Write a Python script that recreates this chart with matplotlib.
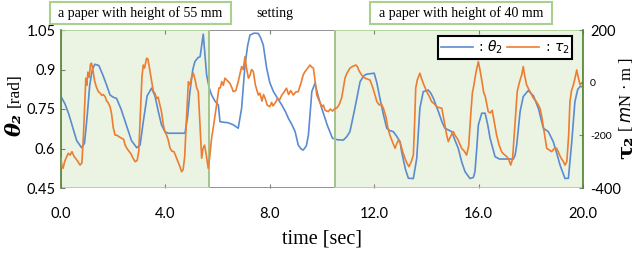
import matplotlib
matplotlib.use('Agg')
import matplotlib.pyplot as plt
from matplotlib.patches import Rectangle

# theta_2 [rad]
t_theta = [0.00, 0.15, 0.30, 0.45, 0.60, 0.79, 0.90, 1.00, 1.10, 1.20, 1.30, 1.45, 1.60, 1.75, 1.88,
           2.00, 2.13, 2.30, 2.50, 2.70, 2.90, 3.03, 3.15, 3.30, 3.47, 3.60, 3.73, 3.85, 3.98, 4.10,
           4.40, 4.75, 4.85, 4.94, 5.05, 5.13, 5.25, 5.33, 5.40, 5.45, 5.52, 5.58, 5.68, 5.77, 5.90,
           6.03, 6.09, 6.20, 6.40, 6.60, 6.79, 6.92, 7.05, 7.15, 7.24, 7.40, 7.56, 7.65, 7.75, 7.88,
           8.00, 8.14, 8.30, 8.46, 8.60, 8.71, 8.85, 8.97, 9.09, 9.20, 9.28, 9.40, 9.48, 9.61, 9.73,
           9.85, 9.99, 10.10, 10.20, 10.40, 10.60, 10.82, 10.95, 11.07, 11.26, 11.46, 11.60, 11.70, 12.00,
           12.10, 12.22, 12.35, 12.48, 12.60, 12.73, 12.85, 12.99, 13.05, 13.20, 13.31, 13.50, 13.63,
           13.75, 13.88, 14.07, 14.17, 14.27, 14.46, 14.60, 14.71, 14.97, 15.10, 15.22, 15.35, 15.48,
           15.67, 15.80, 15.86, 15.93, 15.99, 16.12, 16.25, 16.35, 16.44, 16.63, 16.80, 16.95, 17.33,
           17.40, 17.46, 17.59, 17.71, 17.90, 18.10, 18.29, 18.48, 18.67, 18.86, 19.00, 19.12, 19.31,
           19.44, 19.57, 19.69, 19.80, 19.89, 20.00]
theta = [0.797, 0.770, 0.730, 0.680, 0.630, 0.603, 0.620, 0.720, 0.840, 0.900, 0.920, 0.915, 0.880, 0.840, 0.803,
         0.795, 0.790, 0.750, 0.690, 0.630, 0.603, 0.613, 0.700, 0.800, 0.829, 0.800, 0.740, 0.690, 0.664, 0.658,
         0.658, 0.658, 0.720, 0.816, 0.900, 0.930, 0.945, 0.949, 1.000, 1.034, 0.950, 0.879, 0.830, 0.803, 0.780,
         0.765, 0.702, 0.700, 0.698, 0.690, 0.677, 0.753, 0.917, 0.990, 1.031, 1.038, 1.037, 1.020, 0.993, 0.905,
         0.850, 0.816, 0.790, 0.765, 0.740, 0.715, 0.690, 0.664, 0.613, 0.598, 0.594, 0.610, 0.651, 0.816, 0.848,
         0.800, 0.753, 0.720, 0.689, 0.639, 0.633, 0.632, 0.645, 0.664, 0.753, 0.854, 0.876, 0.882, 0.886,
         0.850, 0.790, 0.730, 0.677, 0.668, 0.664, 0.648, 0.626, 0.588, 0.520, 0.487, 0.486, 0.563,
         0.753, 0.816, 0.822, 0.810, 0.790, 0.740, 0.700, 0.677, 0.664, 0.630, 0.601, 0.550, 0.512,
         0.486, 0.490, 0.512, 0.600, 0.689, 0.734, 0.734, 0.690, 0.639, 0.569, 0.560, 0.560, 0.560,
         0.575, 0.613, 0.740, 0.797, 0.820, 0.800, 0.753, 0.677, 0.664, 0.626, 0.580, 0.537, 0.486,
         0.487, 0.626, 0.778, 0.825, 0.835, 0.835]

# tau_2 [mN m]
t_tau = [0.00, 0.04, 0.08, 0.14, 0.20, 0.28, 0.35, 0.42, 0.50, 0.58, 0.65, 0.73, 0.80, 0.86, 0.92,
         0.95, 0.99, 1.03, 1.08, 1.13, 1.17, 1.22, 1.28, 1.35, 1.43, 1.50, 1.56, 1.62, 1.69, 1.75,
         1.80, 1.88, 1.94, 2.00, 2.07, 2.15, 2.22, 2.32, 2.40, 2.45, 2.52, 2.60, 2.68, 2.75, 2.84,
         2.92, 2.98, 3.04, 3.10, 3.15, 3.20, 3.28, 3.33, 3.38, 3.45, 3.54, 3.60, 3.66, 3.72, 3.79,
         3.85, 3.92, 3.98, 4.05, 4.10, 4.18, 4.25, 4.33, 4.43, 4.50, 4.56, 4.62, 4.68, 4.74, 4.80,
         4.88, 4.95, 5.00, 5.07, 5.14, 5.20, 5.26, 5.32, 5.39, 5.44, 5.50, 5.56, 5.64, 5.70, 5.77,
         5.85, 5.96, 6.05, 6.10, 6.16, 6.22, 6.28, 6.35, 6.47, 6.55, 6.60, 6.70, 6.79, 6.85, 6.92,
         6.98, 7.05, 7.10, 7.18, 7.25, 7.30, 7.37, 7.45, 7.56, 7.62, 7.70, 7.76, 7.82, 7.90, 8.00,
         8.07, 8.12, 8.20, 8.30, 8.38, 8.46, 8.55, 8.64, 8.72, 8.80, 8.90, 9.00, 9.09, 9.20, 9.28,
         9.35, 9.45, 9.54, 9.60, 9.67, 9.73, 9.80, 9.90, 9.99, 10.05, 10.12, 10.24, 10.32, 10.40, 10.50,
         10.56, 10.65, 10.75, 10.82, 10.88, 10.95, 11.07, 11.18, 11.30, 11.36, 11.42, 11.52, 11.60, 11.70, 11.84,
         11.95, 12.04, 12.10, 12.20, 12.27, 12.35, 12.45, 12.52, 12.60, 12.70, 12.80, 12.87, 12.93, 13.00, 13.10,
         13.18, 13.25, 13.33, 13.42, 13.50, 13.55, 13.59, 13.65, 13.75, 13.80, 13.87, 13.95, 14.01, 14.10, 14.20,
         14.30, 14.39, 14.50, 14.59, 14.65, 14.71, 14.78, 14.84, 14.92, 15.03, 15.10, 15.20, 15.35, 15.45, 15.54,
         15.62, 15.70, 15.76, 15.82, 15.90, 15.99, 16.05, 16.12, 16.20, 16.25, 16.37, 16.45, 16.52, 16.60, 16.69,
         16.78, 16.88, 16.95, 17.08, 17.15, 17.23, 17.30, 17.40, 17.48, 17.56, 17.65, 17.71, 17.76, 17.84, 17.95,
         18.10, 18.20, 18.29, 18.36, 18.42, 18.50, 18.61, 18.70, 18.80, 18.90, 18.99, 19.06, 19.15, 19.25, 19.31,
         19.38, 19.45, 19.50, 19.56, 19.63, 19.70, 19.76, 19.82, 19.89, 19.95, 20.00]
tau = [-287, -320, -325, -300, -285, -268, -275, -262, -280, -290, -300, -313, -305, -200, -60,
       17, -10, 40, 20, 70, 74, 50, 10, -15, -34, -40, -48, -45, -53, -70,
       -75, -91, -120, -170, -199, -200, -205, -211, -215, -235, -249, -260, -270, -285, -300,
       -295, -260, -120, 20, 67, 55, 93, 90, 60, 20, -34, -40, -60, -55, -85,
       -110, -160, -186, -200, -215, -249, -260, -262, -287, -305, -320, -338, -330, -280, -150,
       4, -10, 20, 36, 10, -20, -34, -150, -287, -250, -237, -270, -325, -280, -211,
       -160, -85, -20, -20, 4, -10, 17, 10, -2, -20, -34, -30, 4, 30, 61,
       50, 99, 60, 17, 30, 50, 42, -10, -47, -40, -70, -45, -59, -85, -91,
       -75, -88, -78, -60, -65, -47, -35, -21, -45, -30, -47, -35, -34, 0, 30,
       42, 55, 67, 60, 55, 10, -47, -70, -91, -85, -105, -110, -100, -108, -97,
       -97, -85, -59, -20, 17, 35, 55, 62, 67, 60, 45, 29, 20, 15, 10,
       -20, -50, -72, -85, -80, -97, -130, -170, -199, -225, -249, -230, -218, -230, -265,
       -287, -305, -319, -300, -275, -150, -21, 10, 36, 20, 0, -20, -34, -50, -72,
       -80, -91, -95, -97, -130, -161, -200, -224, -205, -186, -200, -215, -249, -260, -275,
       -240, -120, -40, -9, 40, 80, 50, 10, -40, -50, -110, -115, -105, -150, -199,
       -235, -262, -270, -281, -290, -313, -290, -150, -34, 0, 29, 61, 30, -9, -30,
       -59, -70, -85, -100, -129, -180, -249, -255, -262, -250, -249, -265, -285, -300, -313,
       -300, -200, -72, -30, -9, 20, 48, 20, -9, 0, -2]

paper_spans = [(0.0, 5.68), (10.5, 20.0)]
x_ticks = [0, 4, 8, 12, 16, 20]
x_ticklabels = ['0.0', '4.0', '8.0', '12.0', '16.0', '20.0']
theta_ticks = [0.45, 0.6, 0.75, 0.9, 1.05]
theta_ticklabels = ['0.45', '0.6', '0.75', '0.9', '1.05']
tau_ticks = [-400, -200, 0, 200]
tau_ticklabels = ['-400', '-200', '0', '200']

blue = '#5B8BD0'
orange = '#ED7D31'
green_fill = '#EBF3E2'
green_edge = '#A9D18E'
dark_green = '#548235'
grey = '#7F7F7F'
serif = 'Liberation Serif'
sans = 'Lato'

fig = plt.figure(figsize=(6.4, 2.54), dpi=100)
ax = fig.add_axes([61/640, 1 - 188/254, 522/640, 158/254])
ax2 = ax.twinx()

ax.set_xlim(0, 20)
ax.set_ylim(0.45, 1.05)
ax2.set_ylim(-400, 200)

# shaded "paper" regions
ax.axvspan(5.68, 10.5, facecolor='none', edgecolor=grey, lw=1.2, zorder=2.3)
for a, b in paper_spans:
    ax.axvspan(a, b, facecolor=green_fill, edgecolor='none', zorder=0)
    ax.axvspan(a, b, facecolor='none', edgecolor=green_edge, lw=1.2, zorder=2.4)

l1, = ax.plot(t_theta, theta, color=blue, lw=1.2, label=r': $\theta_2$')
l2, = ax2.plot(t_tau, tau, color=orange, lw=1.2, label=r': $\tau_2$')

for s in ['top', 'bottom']:
    ax.spines[s].set_visible(False)
    ax2.spines[s].set_visible(False)
ax.spines['left'].set_color(dark_green)
ax.spines['left'].set_linewidth(1.2)
ax2.spines['left'].set_visible(False)
ax.spines['right'].set_visible(False)
ax2.spines['right'].set_color(dark_green)
ax2.spines['right'].set_linewidth(1.2)

ax.set_xticks(x_ticks)
ax.set_xticklabels(x_ticklabels, fontfamily=sans, fontsize=10.5)
ax.set_yticks(theta_ticks)
ax.set_yticklabels(theta_ticklabels, fontfamily=sans, fontsize=10.5)
ax.tick_params(axis='x', direction='in', length=3, color=grey, pad=14, top=True)
ax.tick_params(axis='y', direction='in', length=3, color=grey, pad=4)

ax2.set_yticks(tau_ticks)
ax2.set_yticklabels(tau_ticklabels, fontfamily=sans)
for lab in ax2.get_yticklabels():
    if lab.get_text() in ('0', '-200'):
        lab.set_fontsize(7.5)
    else:
        lab.set_fontsize(10.5)
ax2.tick_params(axis='y', direction='in', length=3, color=grey, pad=5)

ax.set_xlabel('time [sec]', fontfamily=serif, fontsize=14.5, labelpad=6)

# y labels
fig.text(15/640, 1 - 125/254, 'θ₂', rotation=90, ha='center', va='center',
         fontfamily='DejaVu Serif', fontweight='bold', fontstyle='italic', fontsize=15)
fig.text(15/640, 1 - 90/254, '[rad]', rotation=90, ha='center', va='center',
         fontfamily=serif, fontsize=12.5)
fig.text(626/640, 1 - 147/254, 'τ₂', rotation=90, ha='center', va='center',
         fontfamily='DejaVu Serif', fontweight='bold', fontsize=15)
fig.text(626/640, 1 - 94/254, r'[ $m$N · m ]', rotation=90, ha='center', va='center',
         fontfamily=serif, fontsize=12)

# header boxes
for x0, x1, txt in [(50, 231, 'a paper with height of 55 mm'),
                    (370, 552, 'a paper with height of 40 mm')]:
    fig.patches.append(Rectangle((x0/640, 1 - 24/254), (x1 - x0)/640, 22/254,
                                 transform=fig.transFigure, facecolor='white',
                                 edgecolor=green_edge, lw=1.5))
    fig.text((x0 + x1)/2/640, 1 - 13/254, txt, ha='center', va='center',
             fontfamily=serif, fontsize=10)
fig.text(275/640, 1 - 13/254, 'setting', ha='center', va='center',
         fontfamily=serif, fontsize=10)

leg = ax2.legend(handles=[l1, l2], ncol=2, loc='upper right',
                 bbox_to_anchor=(572/640, 1 - 36/254), bbox_transform=fig.transFigure,
                 borderaxespad=0, fancybox=False, framealpha=1, fontsize=10,
                 handlelength=2.3, columnspacing=0.3, handletextpad=0.4,
                 borderpad=0.2)
leg.get_frame().set_edgecolor('black')
leg.get_frame().set_linewidth(1.5)

fig.savefig('out.png', dpi=100)
